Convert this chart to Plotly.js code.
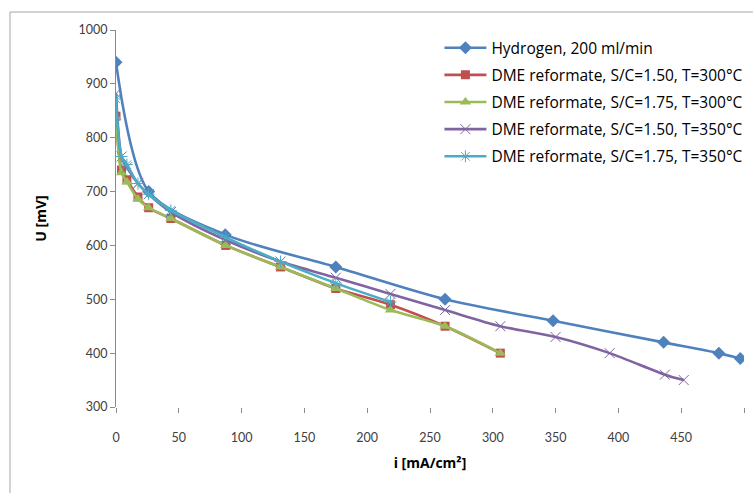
<!DOCTYPE html>
<html>
<head>
<meta charset="utf-8">
<script src="https://cdn.plot.ly/plotly-3.0.1.min.js"></script>
<style>
  html, body { margin: 0; padding: 0; background: #fff; }
  #chart { width: 753px; height: 493px; }
</style>
</head>
<body>
<div id="chart"></div>
<script>
// Polarization curves: cell voltage U [mV] against current density i [mA/cm²]
const seriesNames = [
  'Hydrogen, 200 ml/min',
  'DME reformate, S/C=1.50, T=300°C',
  'DME reformate, S/C=1.75, T=300°C',
  'DME reformate, S/C=1.50, T=350°C',
  'DME reformate, S/C=1.75, T=350°C'
];

const hydrogenI = [0, 26, 87, 175, 262, 348, 436, 480, 497];
const hydrogenU = [940, 700, 620, 560, 500, 460, 420, 400, 390];

const dme150_300I = [0, 4.4, 8.7, 17.5, 26, 43.7, 87.4, 131, 175, 218.5, 262, 306];
const dme150_300U = [840, 740, 722, 690, 670, 650, 600, 560, 520, 490, 450, 400];

const dme175_300I = [0, 4.4, 8.7, 17.5, 26, 43.7, 87.4, 131, 175, 218.5, 262, 306];
const dme175_300U = [838, 735, 718, 686, 670, 650, 600, 560, 520, 480, 450, 400];

const dme150_350I = [0, 4.4, 8.7, 17.5, 26, 43.7, 87.4, 131, 175, 218.5, 262, 306, 350, 393, 437, 452];
const dme150_350U = [882, 765, 745, 715, 695, 662, 610, 570, 540, 510, 480, 450, 430, 400, 360, 350];

const dme175_350I = [0, 4.4, 8.7, 17.5, 26, 43.7, 87.4, 131, 175, 218.5];
const dme175_350U = [872, 765, 750, 715, 695, 665, 615, 570, 530, 495];

const xTicks = [0, 50, 100, 150, 200, 250, 300, 350, 400, 450, 500];
const yTicks = [300, 400, 500, 600, 700, 800, 900, 1000];

const colors = ['#4F81BD', '#C0504D', '#9BBB59', '#8064A2', '#4BACC6'];

function series(i, x, y, marker) {
  return {
    type: 'scatter',
    mode: 'lines+markers',
    name: seriesNames[i],
    legendgroup: 'g' + i,
    x: x,
    y: y,
    line: { color: colors[i], width: 2.6, shape: 'spline', smoothing: 0.8 },
    marker: marker
  };
}

const traces = [
  series(0, hydrogenI, hydrogenU, { symbol: 'diamond', size: 10, color: colors[0] }),
  series(1, dme150_300I, dme150_300U, { symbol: 'square', size: 9, color: colors[1] }),
  series(2, dme175_300I, dme175_300U, { symbol: 'triangle-up', size: 10, color: colors[2] }),
  series(3, dme150_350I, dme150_350U, { symbol: 'x-thin-open', size: 10, color: colors[3], line: { color: colors[3], width: 1 } }),
  series(4, dme175_350I, dme175_350U, { symbol: 'asterisk-open', size: 10, color: colors[4], line: { color: colors[4], width: 1 } })
];

const tickFont = { family: 'Lato, "Open Sans", sans-serif', size: 12.5, color: '#404040' };
const titleFont = { family: '"Open Sans", Lato, sans-serif', size: 14, color: '#000', weight: 'bold' };

const layout = {
  width: 753,
  height: 493,
  margin: { l: 116, r: 9, t: 30, b: 86, autoexpand: false },
  paper_bgcolor: '#ffffff',
  plot_bgcolor: '#ffffff',
  showlegend: true,
  legend: {
    x: 0.515, y: 0.997, xanchor: 'left', yanchor: 'top',
    font: { family: '"Open Sans", Lato, sans-serif', size: 15.5, color: '#000000' },
    tracegroupgap: 4,
    itemwidth: 42,
    bgcolor: 'rgba(0,0,0,0)'
  },
  xaxis: {
    range: [0, 500],
    tickmode: 'array',
    tickvals: xTicks,
    ticktext: xTicks.map(String),
    showgrid: false,
    zeroline: false,
    showline: false,
    ticks: 'outside',
    ticklen: 5,
    tickcolor: '#8a8a8a',
    tickfont: tickFont,
    ticklabelstandoff: 14,
    title: { text: 'i [mA/cm²]', font: titleFont, standoff: 14 }
  },
  yaxis: {
    range: [300, 1000],
    tickmode: 'array',
    tickvals: yTicks,
    ticktext: yTicks.map(String),
    showgrid: false,
    zeroline: false,
    showline: true,
    linecolor: '#8a8a8a',
    linewidth: 1,
    ticks: 'outside',
    ticklen: 5,
    tickcolor: '#8a8a8a',
    tickfont: tickFont,
    title: { text: 'U [mV]', font: titleFont, standoff: 28 }
  },
  shapes: [{
    type: 'rect', xref: 'paper', yref: 'paper',
    x0: -0.1688, x1: 1.1, y0: -0.4, y1: 1.0477,
    line: { color: '#a6a6a6', width: 1 },
    fillcolor: 'rgba(0,0,0,0)',
    layer: 'below'
  }]
};

Plotly.newPlot('chart', traces, layout, { displayModeBar: false, staticPlot: true });
</script>
</body>
</html>
